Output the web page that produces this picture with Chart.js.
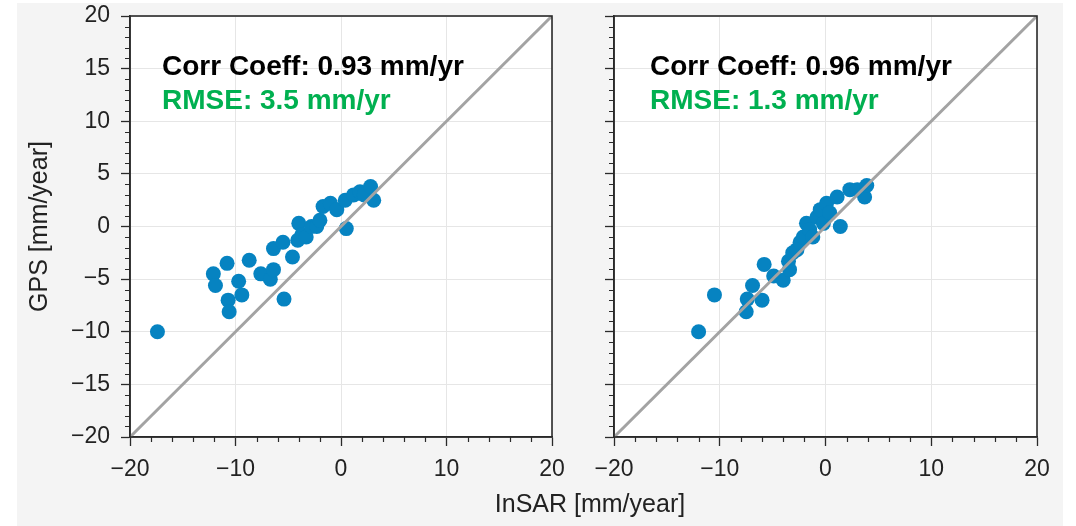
<!DOCTYPE html>
<html>
<head>
<meta charset="utf-8">
<script src="https://cdn.jsdelivr.net/npm/chart.js@4/dist/chart.umd.min.js"></script>
<style>
  html, body { margin: 0; padding: 0; background: #ffffff; }
  #stage { position: relative; width: 1076px; height: 526px; overflow: hidden; }
  #panelBg { position: absolute; left: 17px; top: 3px; width: 1046px; height: 523px; background: #f4f4f4; }
  #leftWrap { position: absolute; left: 0; top: 0; width: 570px; height: 526px; }
  #rightWrap { position: absolute; left: 570px; top: 0; width: 506px; height: 526px; }
  #xTitle { position: absolute; left: 390px; width: 400px; top: 489px; text-align: center;
            font-family: "Liberation Sans", Arial, sans-serif; font-size: 25px; color: #222; }
</style>
</head>
<body>
<div id="stage">
  <div id="panelBg"></div>
  <div id="leftWrap"><canvas id="leftChart" width="570" height="526"></canvas></div>
  <div id="rightWrap"><canvas id="rightChart" width="506" height="526"></canvas></div>
  <div id="xTitle">InSAR [mm/year]</div>
</div>
<script>
(function() {
  'use strict';

  // Left panel: raw InSAR vs GPS
  var leftInsar = [-17.4, -12.1, -11.9, -10.8, -9.7, -10.7, -10.6, -9.4, -8.7, -7.6, -6.7, -6.4, -5.4,
    -6.4, -5.5, -4.6, -4.0, -3.7, -4.1, -3.3, -2.8, -2.3, -2.0, -1.7, -1.0, -0.4, 0.5, 0.4, 1.2, 1.8, 2.2, 2.8, 3.1];
  var leftGps = [-10.0, -4.5, -5.6, -3.5, -5.2, -7.0, -8.1, -6.5, -3.2, -4.5, -5.0, -4.1, -6.9,
    -2.1, -1.5, -2.9, 0.3, -0.8, -1.3, -1.0, 0.0, 0.0, 0.6, 1.9, 2.2, 1.6, -0.2, 2.5, 3.0, 3.3, 3.0, 3.8, 2.5];

  // Right panel: corrected InSAR vs GPS
  var rightInsar = [-12.0, -10.5, -7.5, -7.4, -6.9, -6.0, -5.8, -4.9, -4.0, -3.5, -3.4, -3.1, -2.7, -2.4,
    -2.1, -1.8, -1.5, -1.2, -0.8, -0.5, -0.2, 0.1, 0.4, 1.1, 1.4, 2.3, 3.0, 3.7, 3.9];
  var rightGps = [-10.0, -6.5, -8.1, -6.9, -5.6, -7.0, -3.6, -4.7, -5.1, -3.3, -4.1, -2.5, -2.2, -1.5,
    -1.0, 0.3, -0.3, -1.0, 0.9, 1.6, 0.3, 2.2, 1.3, 2.8, 0.0, 3.5, 3.5, 2.8, 3.9];

  // 1:1 reference line
  var oneToOne = [-20, 20];

  var leftStats = ['Corr Coeff: 0.93 mm/yr', 'RMSE: 3.5 mm/yr'];
  var rightStats = ['Corr Coeff: 0.96 mm/yr', 'RMSE: 1.3 mm/yr'];

  var FONT = '"Liberation Sans", Arial, sans-serif';
  var INK = '#2a2a2a';

  function toPoints(xs, ys) {
    return xs.map(function(x, i) { return { x: x, y: ys[i] }; });
  }

  function fmtTick(value) {
    return String(value).replace('-', '\u2212');
  }

  // White plot area, frame, minor ticks and stat text
  var panelPlugin = {
    id: 'panelDecor',
    beforeDraw: function(chart) {
      var a = chart.chartArea;
      var ctx = chart.ctx;
      ctx.save();
      ctx.fillStyle = '#ffffff';
      ctx.fillRect(a.left, a.top, a.right - a.left, a.bottom - a.top);
      ctx.restore();
    },
    afterDraw: function(chart, args, opts) {
      var a = chart.chartArea;
      var ctx = chart.ctx;
      var xs = chart.scales.x;
      var ys = chart.scales.y;
      var v, p;
      ctx.save();
      ctx.strokeStyle = INK;
      ctx.lineWidth = 1.2;
      ctx.beginPath();
      for (v = -20; v <= 20; v += 2) {
        if (v % 10 === 0) continue;
        p = Math.round(xs.getPixelForValue(v)) + 0.5;
        ctx.moveTo(p, a.bottom);
        ctx.lineTo(p, a.bottom + 5);
      }
      for (v = -20; v <= 20; v += 1) {
        if (v % 5 === 0) continue;
        p = Math.round(ys.getPixelForValue(v)) + 0.5;
        ctx.moveTo(a.left - 5, p);
        ctx.lineTo(a.left, p);
      }
      ctx.stroke();

      // frame
      ctx.lineWidth = 1.6;
      ctx.strokeRect(a.left, a.top, a.right - a.left, a.bottom - a.top);

      // stats text
      ctx.font = 'bold 28px ' + FONT;
      ctx.textBaseline = 'alphabetic';
      ctx.textAlign = 'left';
      ctx.fillStyle = '#000000';
      ctx.fillText(opts.lines[0], a.left + opts.dx, a.top + 59);
      ctx.fillStyle = '#00b050';
      ctx.fillText(opts.lines[1], a.left + opts.dx, a.top + 93);
      ctx.restore();
    }
  };

  function buildChart(canvasId, xs, ys, cfg) {
    var ctx = document.getElementById(canvasId).getContext('2d');
    return new Chart(ctx, {
      type: 'scatter',
      data: {
        datasets: [{
          type: 'line',
          data: toPoints(oneToOne, oneToOne),
          borderColor: '#a3a3a3',
          borderWidth: 3,
          pointRadius: 0,
          fill: false
        }, {
          data: toPoints(xs, ys),
          backgroundColor: '#0683c1',
          borderWidth: 0,
          pointRadius: 7.5
        }]
      },
      options: {
        responsive: false,
        animation: false,
        layout: {
          padding: { left: 0, right: cfg.padRight, top: 16, bottom: 29 }
        },
        plugins: {
          legend: { display: false },
          tooltip: { enabled: false },
          panelDecor: { lines: cfg.lines, dx: cfg.dx }
        },
        scales: {
          x: {
            type: 'linear',
            min: -20,
            max: 20,
            afterFit: function(scale) {
              scale.height = 60;
              scale.paddingLeft = 0;
              scale.paddingRight = 0;
            },
            border: { color: INK, width: 1.6 },
            grid: {
              color: '#e6e6e6',
              lineWidth: 1,
              tickColor: INK,
              tickWidth: 1.3,
              tickLength: 9
            },
            ticks: {
              stepSize: 10,
              color: '#222',
              padding: 10,
              maxRotation: 0,
              font: { family: FONT, size: 23 },
              callback: fmtTick
            }
          },
          y: {
            type: 'linear',
            min: -20,
            max: 20,
            afterFit: function(scale) {
              scale.width = cfg.yWidth;
              scale.paddingTop = 0;
              scale.paddingBottom = 0;
            },
            border: { color: INK, width: 1.6 },
            grid: {
              color: '#e6e6e6',
              lineWidth: 1,
              tickColor: INK,
              tickWidth: 1.3,
              tickLength: 9
            },
            ticks: {
              display: cfg.showY,
              stepSize: 5,
              color: '#222',
              padding: 11,
              font: { family: FONT, size: 23 },
              callback: fmtTick
            },
            title: {
              display: cfg.showY,
              text: 'GPS [mm/year]',
              color: '#222',
              padding: { top: 25, bottom: 0 },
              font: { family: FONT, size: 25 }
            }
          }
        }
      },
      plugins: [panelPlugin]
    });
  }

  buildChart('leftChart', leftInsar, leftGps, {
    yWidth: 130, padRight: 18, showY: true, lines: leftStats, dx: 32
  });
  buildChart('rightChart', rightInsar, rightGps, {
    yWidth: 44, padRight: 39, showY: false, lines: rightStats, dx: 36
  });
})();
</script>
</body>
</html>
